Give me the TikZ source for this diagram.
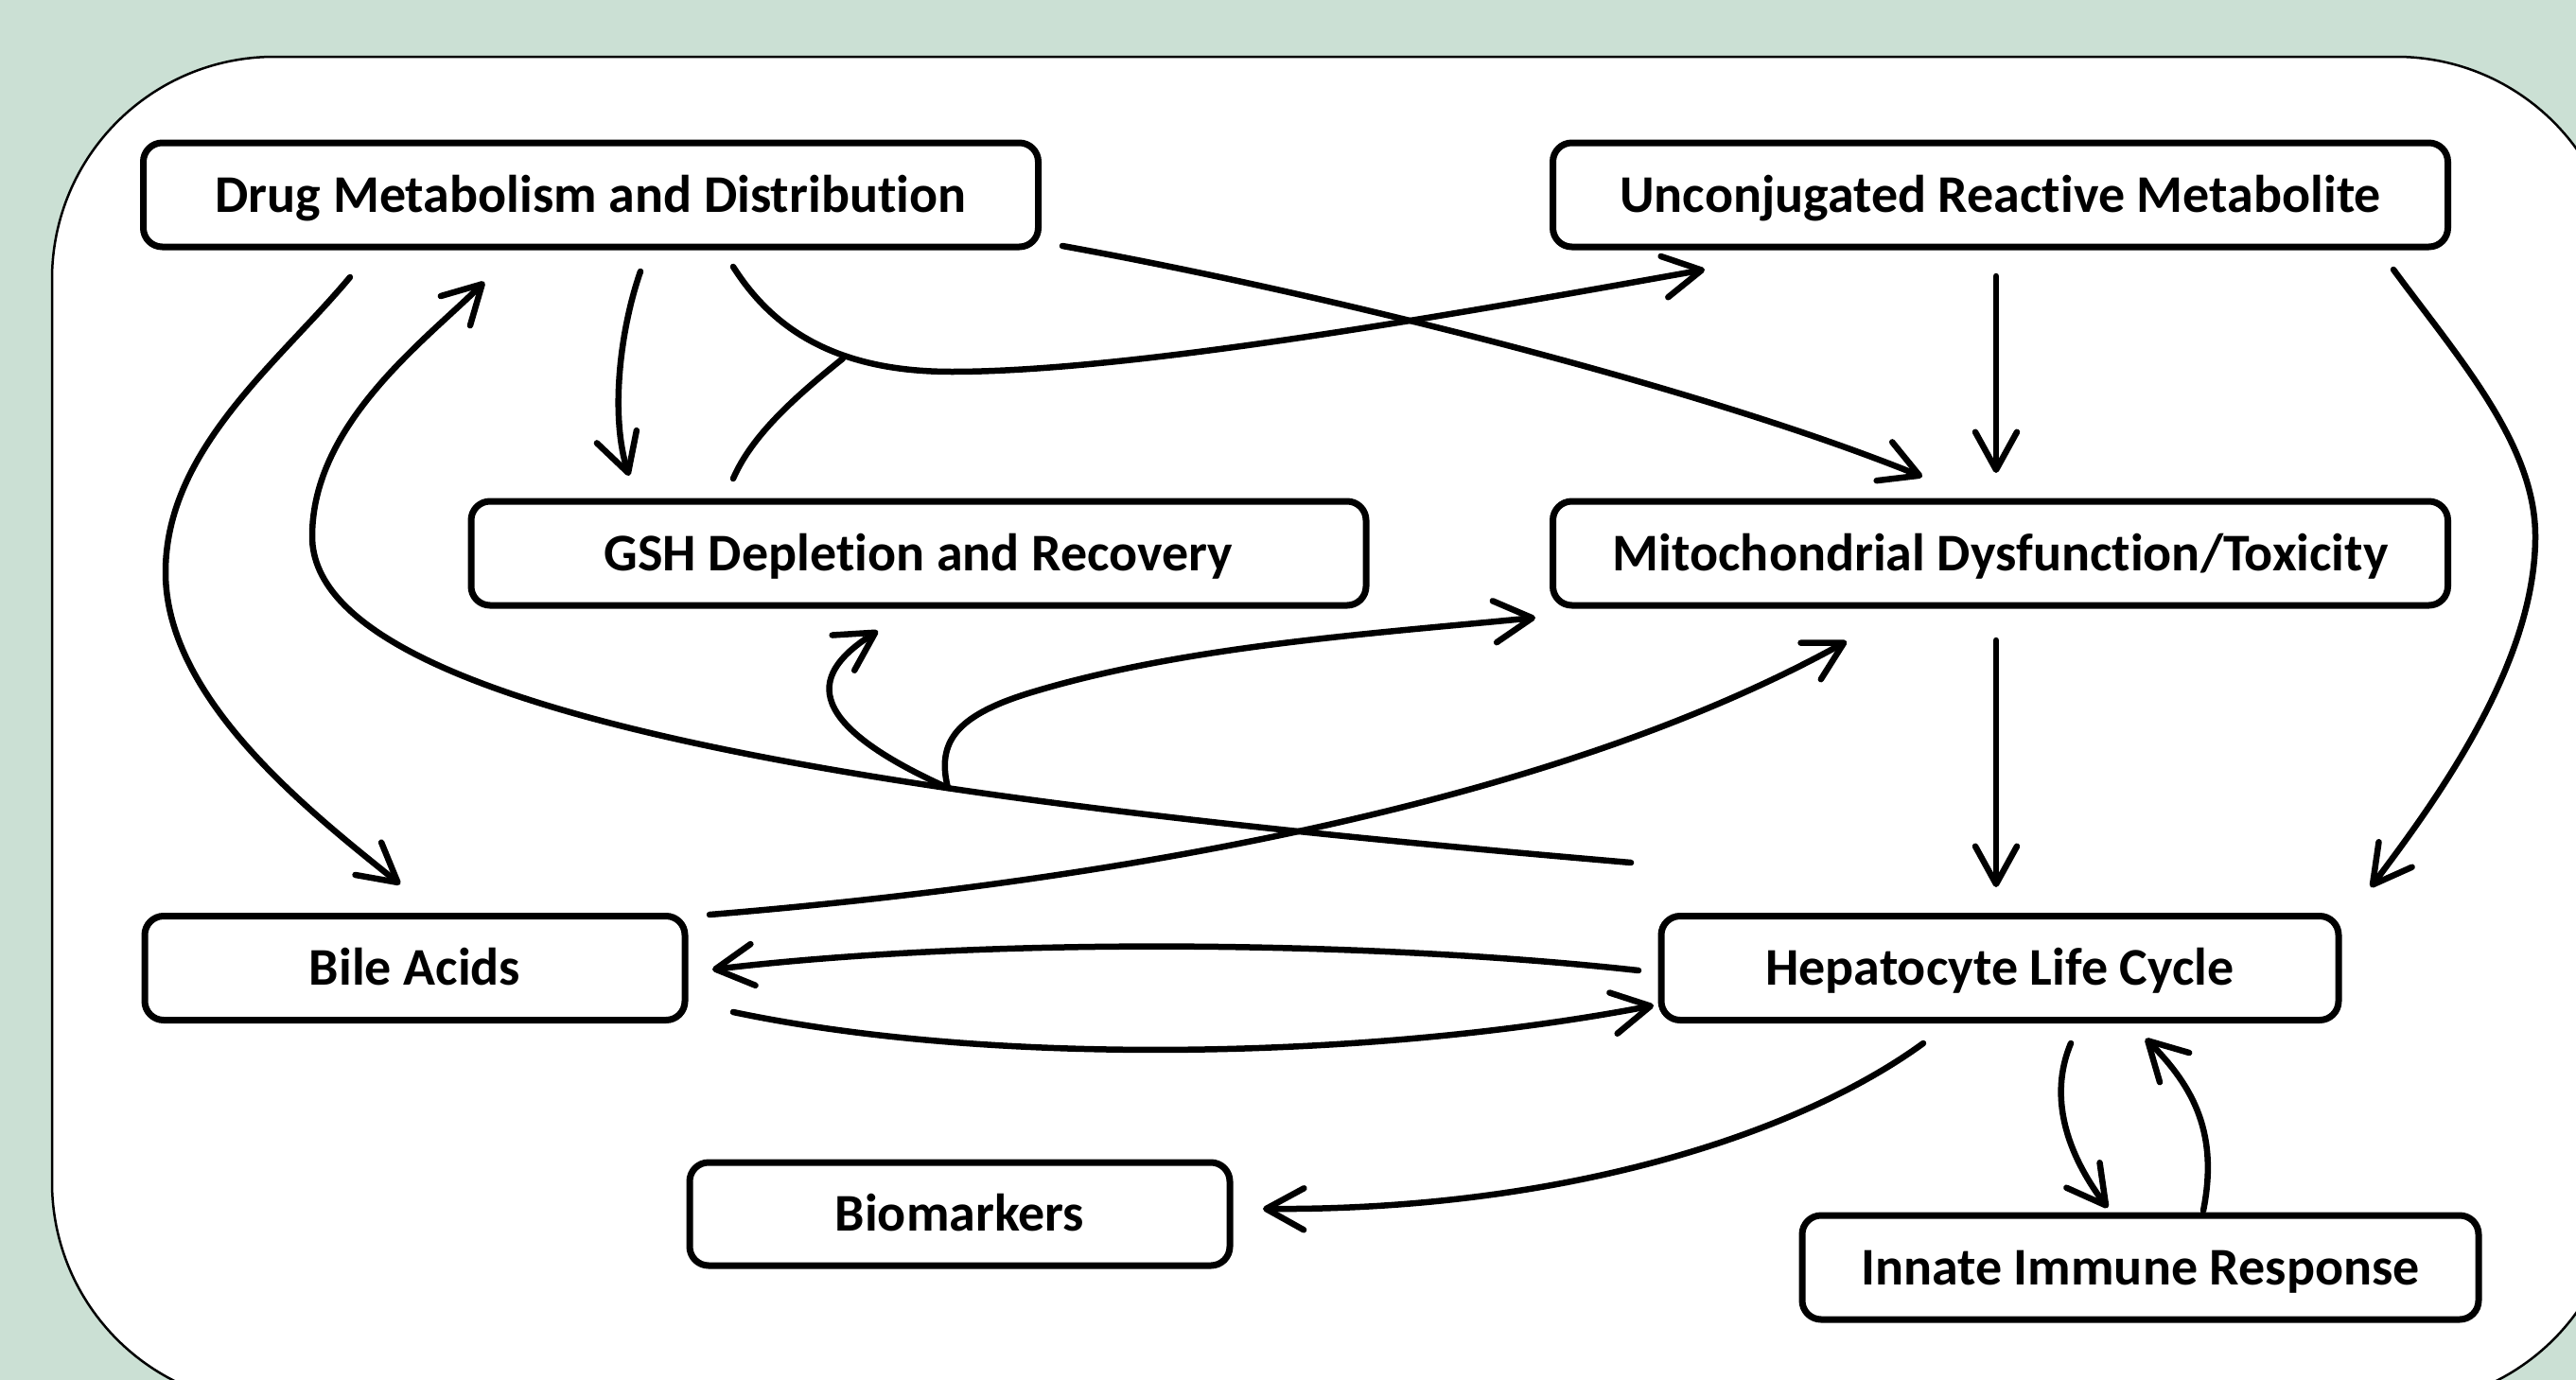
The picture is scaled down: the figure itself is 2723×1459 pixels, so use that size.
\documentclass[tikz,border=0pt]{standalone}
\usepackage{fontspec}
\setmainfont{Carlito}[Ligatures=NoCommon]
\usetikzlibrary{arrows.meta}
\definecolor{bgg}{RGB}{203,224,212}
\begin{document}
\begin{tikzpicture}[x=1pt,y=-1pt,
  box/.style={draw=black, line width=7pt, rounded corners=20pt, fill=white, inner sep=0pt,
    font=\fontsize{56}{60}\selectfont\bfseries, text height=39pt, text depth=3pt, align=center},
  conn/.style={line width=6.5pt, line cap=round, -{Straight Barb[length=40pt,width=44pt,round]}},
  plain/.style={line width=6.5pt, line cap=round}]
\useasboundingbox (0,0) rectangle (2723,1459);
\begin{scope}
  \clip (0,0) rectangle (2723,1459);
  \fill[bgg] (0,0) rectangle (2723,1459);
  \draw[line width=2.5pt, fill=white, rounded corners=235pt] (55,60) rectangle (2768,1485);
\end{scope}
% nodes
\node[box, minimum width=946pt, minimum height=110pt] (dmd) at (624.5,206) {Drug Metabolism and Distribution};
\node[box, minimum width=946pt, minimum height=110pt] (urm) at (2114.5,206) {Unconjugated Reactive Metabolite};
\node[box, minimum width=946pt, minimum height=110pt] (gsh) at (971,585) {GSH Depletion and Recovery};
\node[box, minimum width=946pt, minimum height=110pt] (mito) at (2114.5,585) {Mitochondrial Dysfunction/Toxicity};
\node[box, minimum width=571pt, minimum height=110pt] (bile) at (438.5,1023.5) {Bile Acids};
\node[box, minimum width=716pt, minimum height=110pt] (hep) at (2114,1023.5) {Hepatocyte Life Cycle};
\node[box, minimum width=571pt, minimum height=109pt] (bio) at (1014.5,1283.5) {Biomarkers};
\node[box, minimum width=715pt, minimum height=110pt] (inn) at (2262.5,1340) {Innate Immune Response};
% connector end points
\coordinate (a0) at (370,293); \coordinate (a1) at (175,605); \coordinate (a2) at (423,935);
\coordinate (b0) at (1724,912); \coordinate (b1) at (330,567); \coordinate (b2) at (512,298);
\coordinate (c0) at (677,287); \coordinate (c1) at (665,503);
\coordinate (d0) at (775,282); \coordinate (d1) at (1006,393); \coordinate (d2) at (1802,285);
\coordinate (e0) at (775,506); \coordinate (e1) at (891,379);
\coordinate (f0) at (1123,260); \coordinate (f1) at (2032,504);
\coordinate (g0) at (2110,292); \coordinate (g1) at (2110,500);
\coordinate (i0) at (2110,677); \coordinate (i1) at (2110,938);
\coordinate (h0) at (2530,285); \coordinate (h1) at (2680,567); \coordinate (h2) at (2506,938);
\coordinate (j0) at (1002,833); \coordinate (j1) at (928,667); \coordinate (j3) at (1087,733); \coordinate (j2) at (1623,653);
\coordinate (k0) at (750,967); \coordinate (k1) at (1952,678);
\coordinate (l0) at (1732,1026); \coordinate (l1) at (753,1025);
\coordinate (m0) at (775,1070); \coordinate (m1) at (1748,1063);
\coordinate (n0) at (2033,1103); \coordinate (n1) at (1335,1278);
\coordinate (o0) at (2189,1103); \coordinate (o1) at (2228,1277);
\coordinate (p0) at (2329,1280); \coordinate (p1) at (2268,1098);
% connectors
\draw[conn] (a0) .. controls (295,383) and (175,475) .. (a1) .. controls (175,740) and (330,860) .. (a2);
\draw[conn] (b0) .. controls (1024,852) and (330,767) .. (b1) .. controls (330,447) and (452,358) .. (b2);
\draw[conn] (c0) .. controls (655,350) and (645,440) .. (c1);
\draw[conn] (d0) .. controls (815,345) and (880,393) .. (d1) .. controls (1200,393) and (1550,330) .. (d2);
\draw[plain] (e0) .. controls (795,460) and (840,420) .. (e1);
\draw[conn] (f0) .. controls (1400,310) and (1800,410) .. (f1);
\draw[conn] (g0) -- (g1);
\draw[conn] (i0) -- (i1);
\draw[conn] (h0) .. controls (2600,380) and (2680,470) .. (h1) .. controls (2680,700) and (2580,840) .. (h2);
\draw[conn] (j0) .. controls (840,760) and (860,710) .. (j1);
\draw[conn] (j0) .. controls (990,785) and (1010,757) .. (j3) .. controls (1250,683) and (1450,670) .. (j2);
\draw[conn] (k0) .. controls (1200,930) and (1650,845) .. (k1);
\draw[conn] (l0) .. controls (1450,995) and (1050,990) .. (l1);
\draw[conn] (m0) .. controls (1050,1128) and (1450,1120) .. (m1);
\draw[conn] (n0) .. controls (1900,1200) and (1650,1280) .. (n1);
\draw[conn] (o0) .. controls (2165,1160) and (2185,1220) .. (o1);
\draw[conn] (p0) .. controls (2345,1200) and (2320,1150) .. (p1);
\end{tikzpicture}
\end{document}
